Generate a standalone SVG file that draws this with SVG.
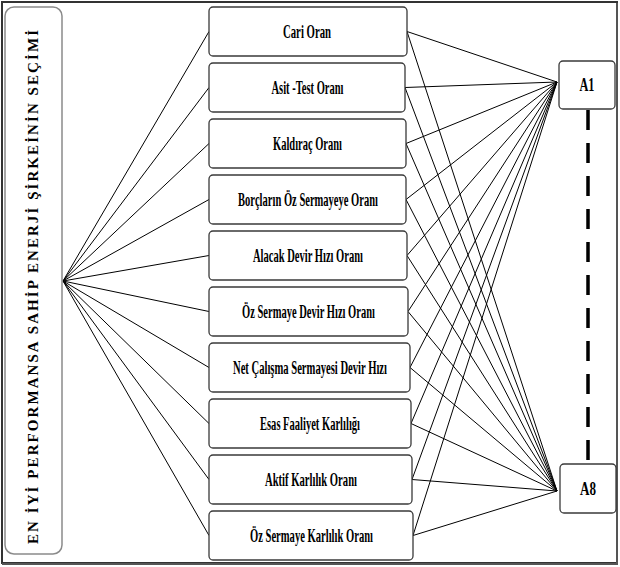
<svg xmlns="http://www.w3.org/2000/svg" width="620" height="567" viewBox="0 0 620 567">
<style>
.frame{fill:none;stroke:#333;stroke-width:2}
.side{fill:#fff;stroke:#8a8a8a;stroke-width:1.5}
.box{fill:#fff;stroke:#3a3a3a;stroke-width:1.3}
.lbl{font-family:"Liberation Serif","Times New Roman",serif;font-weight:bold;font-size:18px;fill:#000;text-anchor:middle}
.vt{font-family:"Liberation Serif","Times New Roman",serif;font-weight:bold;font-size:15px;fill:#000;text-anchor:middle}
.conn line{stroke:#000;stroke-width:1}
.conn line.dash{stroke:#000;stroke-width:3.5;stroke-dasharray:20 13}
</style>
<rect width="620" height="567" fill="#fff"/>
<rect class="frame" x="2" y="2" width="615" height="561"/>
<line x1="617" y1="3" x2="617" y2="564" stroke="#555" stroke-width="2"/>
<line x1="2" y1="564" x2="618" y2="564" stroke="#555" stroke-width="2"/>

<g class="conn" id="connectors">
  <line x1="63" y1="281" x2="209" y2="31.5"/>
  <line x1="63" y1="281" x2="209" y2="87.5"/>
  <line x1="63" y1="281" x2="209" y2="143.5"/>
  <line x1="63" y1="281" x2="209" y2="199.5"/>
  <line x1="63" y1="281" x2="209" y2="255.5"/>
  <line x1="63" y1="281" x2="209" y2="311.5"/>
  <line x1="63" y1="281" x2="209" y2="367.5"/>
  <line x1="63" y1="281" x2="209" y2="423.5"/>
  <line x1="63" y1="281" x2="209" y2="479.5"/>
  <line x1="63" y1="281" x2="209" y2="535.5"/>

  <line x1="407" y1="31.5" x2="557" y2="82"/>
  <line x1="405" y1="87.5" x2="557" y2="82"/>
  <line x1="406" y1="143.5" x2="557" y2="82"/>
  <line x1="406" y1="199.5" x2="557" y2="82"/>
  <line x1="407" y1="255.5" x2="557" y2="82"/>
  <line x1="408" y1="311.5" x2="557" y2="82"/>
  <line x1="410" y1="367.5" x2="557" y2="82"/>
  <line x1="411" y1="423.5" x2="557" y2="82"/>
  <line x1="412" y1="479.5" x2="557" y2="82"/>
  <line x1="413" y1="535.5" x2="557" y2="82"/>

  <line x1="407" y1="31.5" x2="557" y2="491"/>
  <line x1="405" y1="87.5" x2="557" y2="491"/>
  <line x1="406" y1="143.5" x2="557" y2="491"/>
  <line x1="406" y1="199.5" x2="557" y2="491"/>
  <line x1="407" y1="255.5" x2="557" y2="491"/>
  <line x1="408" y1="311.5" x2="557" y2="491"/>
  <line x1="410" y1="367.5" x2="557" y2="491"/>
  <line x1="411" y1="423.5" x2="557" y2="491"/>
  <line x1="412" y1="479.5" x2="557" y2="491"/>
  <line x1="413" y1="535.5" x2="557" y2="491"/>

  <line class="dash" x1="588" y1="110" x2="588" y2="463"/>
</g>

<g id="goal">
  <rect class="side" x="5" y="7" width="57" height="547" rx="9"/>
  <text class="vt" transform="translate(38,287) rotate(-90)" textLength="514" lengthAdjust="spacing">EN İYİ PERFORMANSA SAHİP ENERJİ ŞİRKEİNİN SEÇİMİ</text>
</g>

<g id="c1"><rect class="box" x="209" y="7" width="198" height="49" rx="4"/><text class="lbl" x="307" y="38" textLength="48" lengthAdjust="spacingAndGlyphs">Cari Oran</text></g>
<g id="c2"><rect class="box" x="209" y="63" width="196" height="49" rx="4"/><text class="lbl" x="307.5" y="94" textLength="72" lengthAdjust="spacingAndGlyphs">Asit -Test Oranı</text></g>
<g id="c3"><rect class="box" x="209" y="119" width="197" height="49" rx="4"/><text class="lbl" x="307.5" y="150" textLength="69" lengthAdjust="spacingAndGlyphs">Kaldıraç Oranı</text></g>
<g id="c4"><rect class="box" x="209" y="175" width="197" height="49" rx="4"/><text class="lbl" x="308" y="206" textLength="140" lengthAdjust="spacingAndGlyphs">Borçların Öz Sermayeye Oranı</text></g>
<g id="c5"><rect class="box" x="209" y="231" width="198" height="49" rx="4"/><text class="lbl" x="308" y="262" textLength="110" lengthAdjust="spacingAndGlyphs">Alacak Devir Hızı Oranı</text></g>
<g id="c6"><rect class="box" x="209" y="287" width="199" height="49" rx="4"/><text class="lbl" x="308.5" y="318" textLength="133" lengthAdjust="spacingAndGlyphs">Öz Sermaye Devir Hızı Oranı</text></g>
<g id="c7"><rect class="box" x="209" y="343" width="201" height="49" rx="4"/><text class="lbl" x="310" y="374" textLength="154" lengthAdjust="spacingAndGlyphs">Net Çalışma Sermayesi Devir Hızı</text></g>
<g id="c8"><rect class="box" x="209" y="399" width="202" height="49" rx="4"/><text class="lbl" x="310" y="430" textLength="100" lengthAdjust="spacingAndGlyphs">Esas Faaliyet Karlılığı</text></g>
<g id="c9"><rect class="box" x="209" y="455" width="203" height="49" rx="4"/><text class="lbl" x="311" y="486" textLength="92" lengthAdjust="spacingAndGlyphs">Aktif Karlılık Oranı</text></g>
<g id="c10"><rect class="box" x="209" y="511" width="204" height="49" rx="4"/><text class="lbl" x="311.5" y="542" textLength="123" lengthAdjust="spacingAndGlyphs">Öz Sermaye Karlılık Oranı</text></g>

<g id="a1"><rect class="box" x="559" y="61" width="56" height="48" rx="4"/><text class="lbl" x="587" y="91" textLength="15" lengthAdjust="spacingAndGlyphs">A1</text></g>
<g id="a8"><rect class="box" x="560" y="464" width="56" height="49" rx="4"/><text class="lbl" x="588" y="495" textLength="16" lengthAdjust="spacingAndGlyphs">A8</text></g>
</svg>
